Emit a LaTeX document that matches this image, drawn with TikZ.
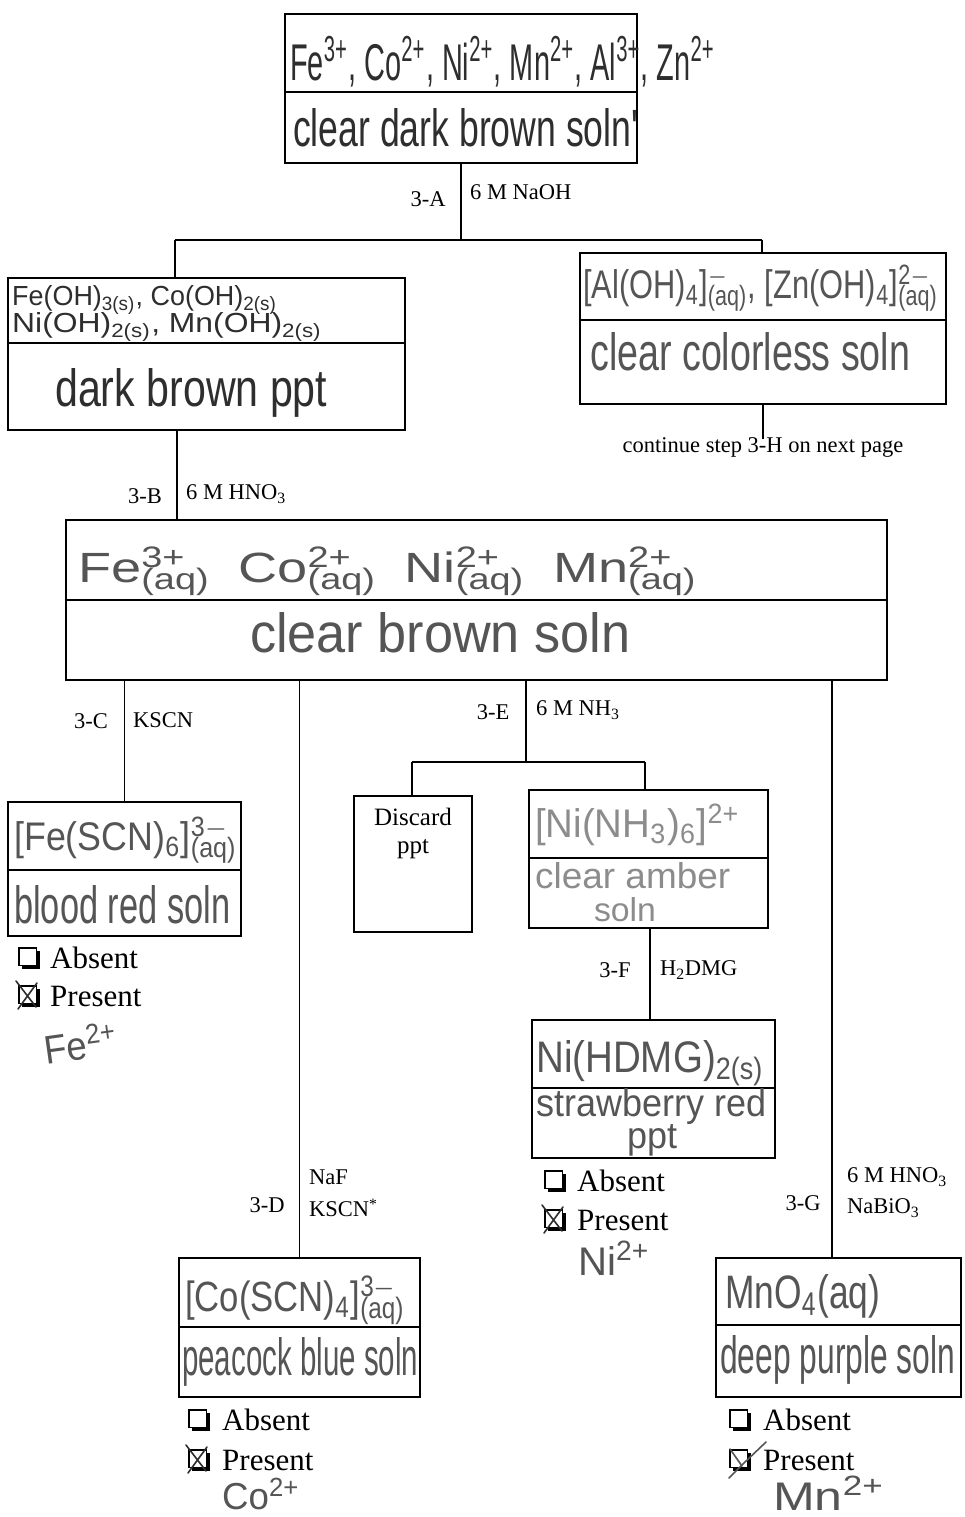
\documentclass[tikz,border=0pt]{standalone}
\usepackage{fontspec}
\usepackage{graphicx}
\setmainfont{Liberation Serif}
\newfontfamily\hwfont{Liberation Sans}
\newcommand\hw[3]{\resizebox{#1pt}{#2pt}{\hwfont #3}}
\newcommand\sps[2]{\setbox0=\hbox{\textsuperscript{#1}}\setbox2=\hbox{\textsubscript{#2}}\ifdim\wd0>\wd2 \rlap{\box2}\box0\else\rlap{\box0}\box2\fi}
\definecolor{ink}{HTML}{2E2E2E}
\definecolor{inkb}{HTML}{555555}
\definecolor{inkc}{HTML}{8C8C8C}
\tikzset{
  box/.style={draw, line width=2.6pt, inner sep=0pt},
  div/.style={line width=1.6pt},
  conn/.style={line width=1.4pt},
  lab/.style={font=\fontsize{22.5}{25}\selectfont, inner sep=1pt},
  opt/.style={font=\fontsize{31}{34}\selectfont, inner sep=0pt, anchor=west},
  hwn/.style={inner sep=0pt, text=ink},
  hwl/.style={hwn, anchor=west},
  cbx/.pic={\fill[black] (2.5,2.5) rectangle (20.5,20.5);
            \filldraw[fill=white,draw=black,line width=1.3pt] (0,0) rectangle (17.5,17.5);},
  xmk/.pic={\draw[ink, line width=1.6pt, line cap=round] (-3,-5) -- (17,21) (18,-3) -- (-1,23);},
}
\begin{document}
\begin{tikzpicture}[x=1pt,y=-1pt]
\useasboundingbox (0,0) rectangle (964,1517);
\fill[white] (0,0) rectangle (964,1517);

% ---------- boxes ----------
\node[box, minimum width=352pt, minimum height=149pt] (top) at (461,88.5) {};
\node[box, minimum width=397pt, minimum height=152pt] (lb) at (206.5,354) {};
\node[box, minimum width=366pt, minimum height=151pt] (rb) at (763,328.5) {};
\node[box, minimum width=821pt, minimum height=160pt] (big) at (476.5,600) {};
\node[box, minimum width=233pt, minimum height=134pt] (fe) at (124.5,869) {};
\node[box, minimum width=118pt, minimum height=136pt] (dis) at (413,864) {};
\node[box, minimum width=239pt, minimum height=138pt] (nn) at (648.5,859) {};
\node[box, minimum width=243pt, minimum height=138pt] (nd) at (653.5,1089) {};
\node[box, minimum width=241pt, minimum height=139pt] (co) at (299.5,1327.5) {};
\node[box, minimum width=245pt, minimum height=139pt] (mn) at (838.5,1327.5) {};

% ---------- dividers ----------
\coordinate (dTop) at (0,92);
\coordinate (dL) at (0,343);
\coordinate (dR) at (0,320);
\coordinate (dB) at (0,600);
\coordinate (dFe) at (0,870);
\coordinate (dNn) at (0,858);
\coordinate (dNd) at (0,1088);
\coordinate (dCo) at (0,1327);
\coordinate (dMn) at (0,1325);
\draw[div] (top.west |- dTop) -- (top.east |- dTop);
\draw[div] (lb.west |- dL) -- (lb.east |- dL);
\draw[div] (rb.west |- dR) -- (rb.east |- dR);
\draw[div] (big.west |- dB) -- (big.east |- dB);
\draw[div] (fe.west |- dFe) -- (fe.east |- dFe);
\draw[div] (nn.west |- dNn) -- (nn.east |- dNn);
\draw[div] (nd.west |- dNd) -- (nd.east |- dNd);
\draw[div] (co.west |- dCo) -- (co.east |- dCo);
\draw[div] (mn.west |- dMn) -- (mn.east |- dMn);

% ---------- handwritten contents ----------
\node[hwl] (t1) at (290,62) {\hw{425}{44}{Fe\textsuperscript{3+}, Co\textsuperscript{2+}, Ni\textsuperscript{2+}, Mn\textsuperscript{2+}, Al\textsuperscript{3+}, Zn\textsuperscript{2+}}};
\node[hwl] (t2) at (293,128) {\hw{345}{38}{clear dark brown soln'}};
\node[hwl] (l1) at (12,300) {\hw{265}{20}{Fe(OH)\textsubscript{3(s)}, Co(OH)\textsubscript{2(s)}}};
\node[hwl] (l2) at (12,327) {\hw{310}{20}{Ni(OH)\textsubscript{2(s)}, Mn(OH)\textsubscript{2(s)}}};
\node[hwl] (l3) at (55,393) {\hw{272}{38}{dark brown ppt}};
\node[hwl, text=inkb] (r1) at (583,288) {\hw{355}{34}{[Al(OH)\textsubscript{4}]\sps{$-$}{(aq)}, [Zn(OH)\textsubscript{4}]\sps{2$-$}{(aq)}}};
\node[hwl, text=inkb] (r2) at (590,352) {\hw{320}{38}{clear colorless soln}};
\node[hwl, text=inkb] (b1) at (78,571) {\hw{620}{36}{Fe\sps{3+}{(aq)}\enspace Co\sps{2+}{(aq)}\enspace Ni\sps{2+}{(aq)}\enspace Mn\sps{2+}{(aq)}}};
\node[hwl, text=inkb] (b2) at (250,633) {\hw{380}{40}{clear brown soln}};
\node[hwl, text=inkb] (f1) at (14,840) {\hw{223}{34}{[Fe(SCN)\textsubscript{6}]\sps{3$-$}{(aq)}}};
\node[hwl, text=inkb] (f2) at (14,905) {\hw{216}{38}{blood red soln}};
\node[hwl, text=inkc] (n1) at (535,825) {\hw{205}{34}{[Ni(NH\textsubscript{3})\textsubscript{6}]\textsuperscript{2+}}};
\node[hwl, text=inkc] (n2) at (535,876) {\hw{195}{26}{clear amber}};
\node[hwn, text=inkc] (n3) at (625,910) {\hw{62}{24}{soln}};
\node[hwl, text=inkb] (d1) at (536,1063) {\hw{228}{32}{Ni(HDMG)\textsubscript{2(s)}}};
\node[hwl, text=inkb] (d2) at (536,1106) {\hw{230}{28}{strawberry red}};
\node[hwn, text=inkb] (d3) at (652,1140) {\hw{50}{24}{ppt}};
\node[hwl, text=inkb] (c1) at (185,1300) {\hw{220}{36}{[Co(SCN)\textsubscript{4}]\sps{3$-$}{(aq)}}};
\node[hwl, text=inkb] (c2) at (182,1362) {\hw{236}{38}{peacock blue soln}};
\node[hwl, text=inkb] (m1) at (725,1296) {\hw{155}{34}{MnO\textsubscript{4}(aq)}};
\node[hwl, text=inkb] (m2) at (720,1360) {\hw{235}{38}{deep purple soln}};

% ---------- discard box text ----------
\node[inner sep=0pt, font=\fontsize{25}{28}\selectfont] (dis1) at (413,817) {Discard};
\node[inner sep=0pt, font=\fontsize{25}{28}\selectfont] (dis2) at (413,849) {ppt};

% ---------- junctions ----------
\coordinate (jA) at (461,240);
\coordinate (jL) at (175,240);
\coordinate (jR) at (762,240);
\coordinate (jB) at (177,480);
\coordinate (cC) at (124.5,700);
\coordinate (cD) at (299.5,700);
\coordinate (cE) at (526,700);
\coordinate (cG) at (832,700);
\coordinate (jE) at (526,762);
\coordinate (jEl) at (412,762);
\coordinate (jEr) at (645,762);
\coordinate (jF) at (650,970);

% ---------- connectors ----------
\draw[conn] (top.south) -- (jA);
\draw[conn] (jL) -- (jR);
\draw[conn] (jL) -- (jL |- lb.north);
\draw[conn] (jR) -- (jR |- rb.north);
\node[lab] (cont) at (763,447) {continue step 3-H on next page};
\draw[conn] (rb.south) -- ([yshift=-3pt]cont.north);
\draw[conn] (jB |- lb.south) -- (jB |- big.north);
\draw[conn] (cC |- big.south) -- (cC |- fe.north);
\draw[conn] (cD |- big.south) -- (cD |- co.north);
\draw[conn] (cE |- big.south) -- (jE);
\draw[conn] (jEl) -- (jEr);
\draw[conn] (jEl) -- (jEl |- dis.north);
\draw[conn] (jEr) -- (jEr |- nn.north);
\draw[conn] (jF |- nn.south) -- (jF |- nd.north);
\draw[conn] (cG |- big.south) -- (cG |- mn.north);

% ---------- step labels ----------
\node[lab] (sA) at (428,199) {3-A};
\node[lab, anchor=west] (rA) at (469,192) {6 M NaOH};
\node[lab] (sB) at (145,496) {3-B};
\node[lab, anchor=west] (rB) at (185,494) {6 M HNO\textsubscript{3}};
\node[lab] (sC) at (91,721) {3-C};
\node[lab, anchor=west] (rC) at (132,720) {KSCN};
\node[lab] (sE) at (493,712) {3-E};
\node[lab, anchor=west] (rE) at (535,710) {6 M NH\textsubscript{3}};
\node[lab] (sF) at (615,970) {3-F};
\node[lab, anchor=west] (rF) at (659,970) {H\textsubscript{2}DMG};
\node[lab] (sD) at (267,1205) {3-D};
\node[lab, anchor=west] (rD1) at (308,1177) {NaF};
\node[lab, anchor=west] (rD2) at (308,1208) {KSCN\textsuperscript{*}};
\node[lab] (sG) at (803,1203) {3-G};
\node[lab, anchor=west] (rG1) at (846,1177) {6 M HNO\textsubscript{3}};
\node[lab, anchor=west] (rG2) at (846,1208) {NaBiO\textsubscript{3}};

% ---------- result checkboxes ----------
\node[opt] (feAb) at (50,958) {Absent};
\node[opt] (fePr) at (50,996) {Present};
\pic at (19,948) {cbx}; \pic at (19,986) {cbx}; \pic at (19,986) {xmk};
\node[hwl, text=inkb, rotate=8] (feIon) at (44,1048) {\hw{74}{34}{Fe\textsuperscript{2+}}};

\node[opt] (niAb) at (577,1181) {Absent};
\node[opt] (niPr) at (577,1220) {Present};
\pic at (545,1171) {cbx}; \pic at (545,1210) {cbx}; \pic at (545,1210) {xmk};
\node[hwl, text=inkb] (niIon) at (578,1258) {\hw{72}{34}{Ni\textsuperscript{2+}}};

\node[opt] (coAb) at (222,1420) {Absent};
\node[opt] (coPr) at (222,1460) {Present};
\pic at (189,1410) {cbx}; \pic at (189,1450) {cbx}; \pic at (189,1450) {xmk};
\node[hwl, text=inkb] (coIon) at (222,1494) {\hw{78}{32}{Co\textsuperscript{2+}}};

\node[opt] (mnAb) at (763,1420) {Absent};
\node[opt] (mnPr) at (763,1460) {Present};
\pic at (730,1410) {cbx}; \pic at (730,1450) {cbx};
\draw[inkb, line width=1.6pt, line cap=round] (729,1478) -- (744,1463) -- (766,1442);
\draw[inkb, line width=1.6pt, line cap=round] (730,1449) -- (742,1466);
\node[hwl, text=inkb] (mnIon) at (773,1493) {\hw{112}{34}{Mn\textsuperscript{2+}}};
\end{tikzpicture}
\end{document}
